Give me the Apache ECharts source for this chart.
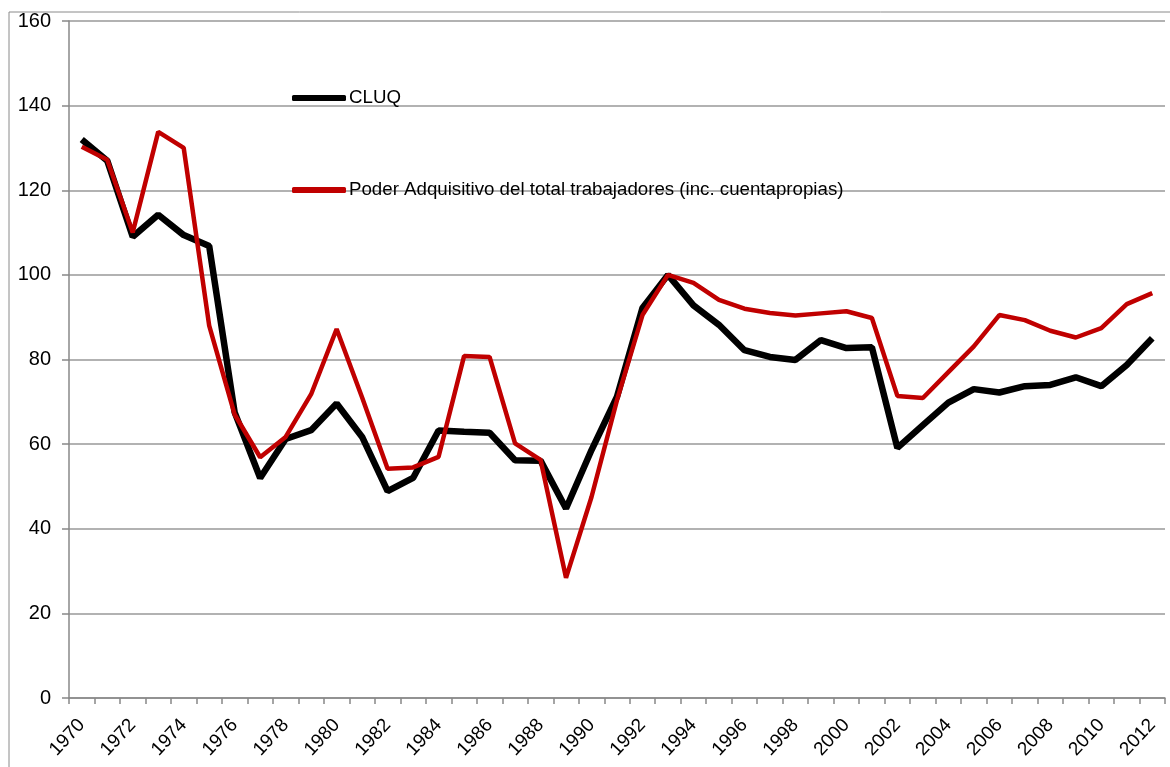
<!DOCTYPE html>
<html>
<head>
<meta charset="utf-8">
<script src="https://cdn.jsdelivr.net/npm/echarts@6/dist/echarts.min.js"></script>
<style>html,body{margin:0;padding:0;background:#fff}#c{width:1170px;height:767px}</style>
</head>
<body>
<div id="c"></div>
<script>
const years = [];
for (let y = 1970; y <= 2012; y++) years.push(String(y));
const cluq = [132, 127, 109, 114.2, 109.4, 106.8, 67.5, 52, 61.2, 63.3, 69.6, 61.7, 48.9, 52, 63.2, 62.9, 62.7, 56.2, 56.1, 44.8, 58.6, 71.2, 92.2, 100, 92.8, 88.2, 82.2, 80.6, 79.9, 84.6, 82.7, 82.9, 59.1, 64.5, 69.8, 73, 72.2, 73.7, 74, 75.8, 73.7, 78.7, 85];
const poder = [130.3, 127.2, 110, 133.8, 130, 88, 67, 56.9, 61.7, 71.8, 87.2, 71, 54.2, 54.5, 57, 80.8, 80.6, 60.2, 56.3, 28.4, 47.5, 70.4, 90.5, 100, 98.1, 94.1, 92, 91, 90.4, 90.9, 91.4, 89.8, 71.4, 70.9, 77, 83.1, 90.5, 89.3, 86.8, 85.2, 87.4, 93.1, 95.7];
const seriesNames = ['CLUQ', 'Poder Adquisitivo del total trabajadores (inc. cuentapropias)'];

const FONT = '"Liberation Sans", Arial, sans-serif';
const chart = echarts.init(document.getElementById('c'), null, {renderer: 'canvas'});
chart.setOption({
  animation: false,
  backgroundColor: '#fff',
  textStyle: {fontFamily: FONT},
  graphic: [{
    type: 'rect', left: 6.5, top: 9.5, silent: true, z: -1,
    shape: {width: 1200, height: 800},
    style: {fill: 'none', stroke: '#8a8a8a', lineWidth: 1}
  }],
  legend: {
    orient: 'vertical', left: 292, top: 88, itemGap: 72, padding: 0,
    itemWidth: 54, itemHeight: 6, icon: 'roundRect',
    textStyle: {fontSize: 18.7, lineHeight: 20, color: '#000', fontFamily: FONT, padding: [0, 0, 0, -2]},
    data: seriesNames
  },
  grid: {left: 69, right: 5, top: 21, bottom: 69, containLabel: false},
  xAxis: {
    type: 'category', data: years, boundaryGap: true,
    axisLine: {lineStyle: {color: '#888', width: 1.5}},
    axisTick: {show: true, interval: 0, length: 6, lineStyle: {color: '#888', width: 1.5}},
    axisLabel: {interval: 1, rotate: 47, fontSize: 19, color: '#000', margin: 24, fontFamily: FONT}
  },
  yAxis: {
    type: 'value', min: 0, max: 160, interval: 20,
    axisLine: {show: true, lineStyle: {color: '#888', width: 1.5}},
    axisTick: {show: true, length: 7, lineStyle: {color: '#888', width: 1.5}},
    axisLabel: {fontSize: 20, color: '#000', margin: 18, fontFamily: FONT},
    splitLine: {lineStyle: {color: '#999', width: 1.5}}
  },
  series: [
    {name: seriesNames[0], type: 'line', data: cluq, symbol: 'none', z: 2,
     lineStyle: {color: '#000', width: 6.5}, itemStyle: {color: '#000'}},
    {name: seriesNames[1], type: 'line', data: poder, symbol: 'none', z: 3,
     lineStyle: {color: '#c00000', width: 4.5}, itemStyle: {color: '#c00000'}}
  ]
});
</script>
</body>
</html>
